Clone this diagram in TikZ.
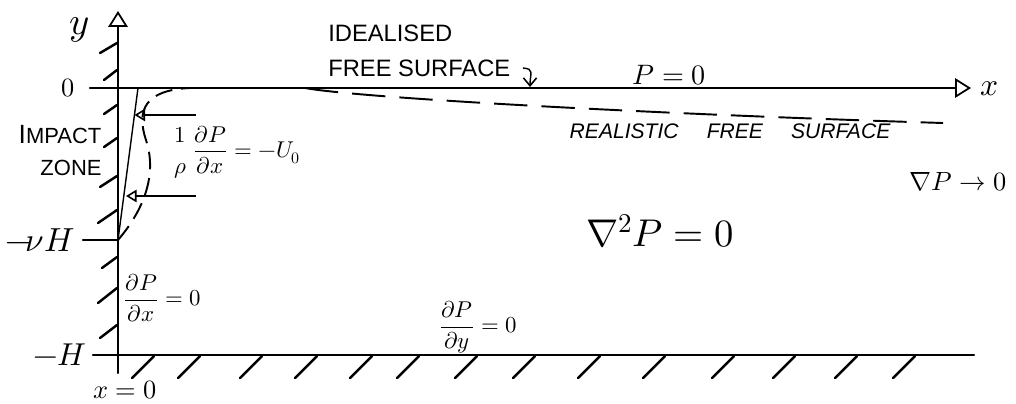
\documentclass[tikz,border=0pt]{standalone}
\usepackage{amsmath}
\usepackage{fontspec}
\usepackage{unicode-math}
\setmainfont{Liberation Sans}
\usetikzlibrary{arrows.meta}
\newcommand{\myfs}[1]{\fontsize{#1}{#1}\selectfont}
\begin{document}
\begin{tikzpicture}[x=0.02cm,y=-0.02cm,
 axisline/.style={line width=1.2pt, line cap=round},
 hatchline/.style={line width=1.4pt, line cap=round},
 thinline/.style={line width=0.8pt},
 axistip/.style={-{Triangle[open,length=9pt,width=11pt,line width=1pt]}},
 pushtip/.style={-{Triangle[open,length=6pt,width=7pt,line width=0.9pt]}},
 barbtip/.style={-{Straight Barb[length=4.5pt,width=7.5pt,line width=0.9pt]}},
 dashcurve/.style={line width=1.1pt, dash pattern=on 10pt off 5pt},
 dashsurf/.style={line width=1.1pt, dash pattern=on 19pt off 8pt},
 lbl/.style={inner sep=0pt, anchor=center},
]
\useasboundingbox (0,0) rectangle (1016,403);
% coordinates
\coordinate (ybot) at (118,373);
\coordinate (ytop) at (118,11);
\coordinate (xleft) at (90,88);
\coordinate (xright) at (971,88);
\coordinate (hleft) at (93,355);
\coordinate (hright) at (974,355);
\coordinate (nuH) at (83,240);
\coordinate (wallnu) at (118,240);
\coordinate (slopetop) at (138,88);
\coordinate (a1s) at (196,115);
\coordinate (a1e) at (134.5,115);
\coordinate (a2s) at (196,196);
\coordinate (a2e) at (126,196);
\coordinate (surfjoin) at (190,88);
\coordinate (rs0) at (305,88);
\coordinate (rs1) at (943,123);
\coordinate (idealpt) at (530,87);
% axes
\draw[axisline, axistip] (ybot) -- (ytop);
\draw[axisline, axistip] (xleft) -- (xright);
\draw[axisline] (hleft) -- (hright);
\draw[axisline] (nuH) -- (wallnu);
% wall hatches
\foreach \bx/\by/\tx/\ty in {100/53/117/43, 104/80/117/70, 104/114/117/105, 104/147/117/138,
  100/187/117/176, 98/223/117/210, 102/268/117/257, 98/303/117/288, 100/338/117/325}
  \draw[hatchline] (\bx,\by) -- (\tx,\ty);
% bottom hatches
\foreach \bx in {132,178,240,295,350,397,455,513,578,643,712,773,835,893}
  \draw[hatchline] (\bx,378) -- ({\bx+22},356);
% impact zone
\draw[thinline] (wallnu) -- (slopetop);
\draw[thinline, pushtip] (a1s) -- (a1e);
\draw[thinline, pushtip] (a2s) -- (a2e);
\draw[dashcurve] (wallnu) .. controls (148,205) and (156,170) .. (146,140)
   .. controls (136,110) and (145,90) .. (surfjoin);
% realistic free surface
\draw[dashsurf] (rs0) .. controls (360,98) and (650,114) .. (rs1);
% labels
\node[lbl, font=\myfs{22}] (ylab) at (80,30) {$y$};
\node[lbl, font=\myfs{15}] (zerolab) at (68,88) {$0$};
\node[lbl] (impact) at (60,135) {{\myfs{15}I}{\myfs{12.5}MPACT}};
\node[lbl, font=\myfs{12.5}] (zone) at (71,168) {ZONE};
\node[lbl, font=\myfs{19}] (nuHlab) at (40,240) {$-\!\nu H$};
\node[lbl, font=\myfs{18}] (Hlab) at (60,355) {$-H$};
\node[lbl, font=\myfs{15}] (x0lab) at (125,390) {$x=0$};
\node[lbl, font=\myfs{13.5}, anchor=west] (ideal1) at (328,33) {IDEALISED};
\node[lbl, font=\myfs{13.5}, anchor=west] (ideal2) at (328,68) {FREE SURFACE};
\draw[thinline, barbtip] ([xshift=7pt]ideal2.east) .. controls +(12,1) and +(0,-14) .. (idealpt);
\node[lbl, font=\myfs{16}] (P0) at (669,75) {$P=0$};
\node[lbl, font=\myfs{18}] (xlab) at (990,89) {$x$};
\node[lbl, font=\myfs{12}\itshape] (realistic) at (730,131) {REALISTIC\hspace{16pt}FREE\hspace{16pt}SURFACE};
\node[lbl, font=\myfs{15}] (gradP) at (958,182) {$\nabla P\to 0$};
\node[lbl, font=\myfs{22}] (lap) at (660,231) {$\nabla^2 P = 0$};
\node[lbl, font=\myfs{13}] (dPdy) at (478,327) {$\dfrac{\partial P}{\partial y}=0$};
\node[lbl, font=\myfs{13}, anchor=west] (dPdx) at (123,298) {$\dfrac{\partial P}{\partial x}=0$};
\node[lbl, font=\myfs{13}, anchor=west] (impform) at (172,152) {$\genfrac{}{}{0pt}{0}{1}{\rho}\,\dfrac{\partial P}{\partial x}=-U_0$};
\end{tikzpicture}
\end{document}
